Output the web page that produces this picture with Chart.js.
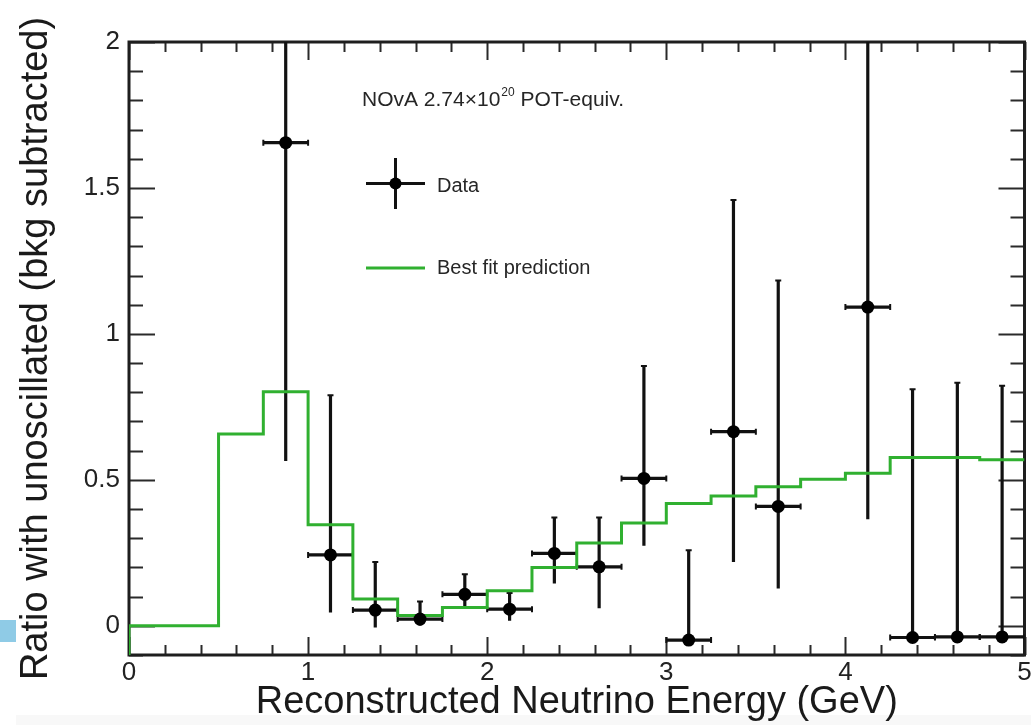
<!DOCTYPE html>
<html>
<head>
<meta charset="utf-8">
<title>NOvA ratio with unoscillated prediction</title>
<script src="https://cdn.jsdelivr.net/npm/chart.js@4/dist/chart.umd.min.js"></script>
<style>
  html, body { margin: 0; padding: 0; background: #ffffff; }
  #wrap { width: 1031px; height: 725px; position: relative; }
</style>
</head>
<body>
<div id="wrap"><canvas id="c" width="1031" height="725"></canvas></div>
<script>
// Histogram bin edges (GeV) and best-fit prediction per bin
const binEdges = [0, 0.25, 0.5, 0.75, 1.0, 1.25, 1.5, 1.75, 2.0, 2.25, 2.5,
                  2.75, 3.0, 3.25, 3.5, 3.75, 4.0, 4.25, 4.5, 4.75, 5.0];
const fitValues = [0, 0, 0.657, 0.802, 0.346, 0.092, 0.035, 0.063, 0.12, 0.2,
                   0.284, 0.352, 0.419, 0.445, 0.476, 0.502, 0.523, 0.577, 0.577, 0.569];

// Data points: bin centre, ratio, asymmetric vertical errors, horizontal half-width
const dataX     = [0.875, 1.125, 1.375, 1.625, 1.875, 2.125, 2.375, 2.625,
                   2.875, 3.125, 3.375, 3.625, 4.125, 4.375, 4.625, 4.875];
const dataY     = [1.655, 0.243, 0.054, 0.023, 0.108, 0.057, 0.248, 0.202,
                   0.505, -0.049, 0.665, 0.409, 1.092, -0.040, -0.038, -0.038];
const dataYHigh = [2.6, 0.79, 0.219, 0.083, 0.177, 0.112, 0.371, 0.371,
                   0.89, 0.259, 1.459, 1.183, 2.3, 0.81, 0.833, 0.822];
const dataYLow  = [0.565, 0.046, -0.006, 0.0, 0.06, 0.017, 0.145, 0.06,
                   0.274, -0.049, 0.219, 0.128, 0.365, -0.040, -0.038, -0.038];
const dataXErr  = [0.125, 0.125, 0.125, 0.125, 0.125, 0.125, 0.125, 0.125,
                   0.125, 0.125, 0.125, 0.125, 0.125, 0.125, 0.125, 0.125];

// Axis ranges and labelled ticks
const xRange = [0, 5];
const yRange = [-0.1, 2];
const xTicks = [0, 1, 2, 3, 4, 5];
const yTicks = [0, 0.5, 1, 1.5, 2];
const xMinorStep = 0.2;
const yMinorStep = 0.1;

const FONT = "'Liberation Sans', Arial, Helvetica, sans-serif";
const GREEN = '#30b030';
const INK = '#1e1e1e';

// Step outline: rises from the axis floor at the first edge, ends at the last edge
const fitPoints = [{ x: binEdges[0], y: yRange[0] }];
fitValues.forEach((v, i) => fitPoints.push({ x: binEdges[i], y: v }));
fitPoints.push({ x: binEdges[binEdges.length - 1], y: fitValues[fitValues.length - 1] });

const dataPoints = dataX.map((x, i) => ({ x: x, y: dataY[i] }));

// Page backdrop, including the small swatch at the left margin
const backdrop = {
  id: 'backdrop',
  beforeDraw(chart) {
    const c = chart.ctx;
    c.save();
    c.fillStyle = '#ffffff';
    c.fillRect(0, 0, chart.width, chart.height);
    c.fillStyle = '#f8f8f8';
    c.fillRect(16, 715, chart.width - 16, chart.height - 715);
    c.fillStyle = '#8fcbe6';
    c.fillRect(0, 620, 16, 22);
    c.restore();
  }
};

// Closed frame with inward major/minor ticks on all four sides
const frame = {
  id: 'frame',
  beforeDatasetsDraw(chart) {
    const c = chart.ctx;
    const a = chart.chartArea;
    const xs = chart.scales.x, ys = chart.scales.y;
    c.save();
    c.strokeStyle = '#2a2a2a';
    c.lineWidth = 2;
    c.beginPath();
    const nx = Math.round((xs.max - xs.min) / xMinorStep);
    for (let i = 0; i <= nx; i++) {
      const v = xs.min + i * xMinorStep;
      const major = Math.abs(v - Math.round(v)) < 1e-6;
      const len = major ? 18 : 10;
      const px = Math.round(xs.getPixelForValue(v)) + 0.5;
      c.moveTo(px, a.bottom); c.lineTo(px, a.bottom - len);
      c.moveTo(px, a.top); c.lineTo(px, a.top + len);
    }
    const ny = Math.round((ys.max - ys.min) / yMinorStep);
    for (let i = 0; i <= ny; i++) {
      const v = ys.min + i * yMinorStep;
      const major = Math.abs(v * 2 - Math.round(v * 2)) < 1e-6;
      const len = major ? 26 : 14;
      const py = Math.round(ys.getPixelForValue(v)) + 0.5;
      c.moveTo(a.left, py); c.lineTo(a.left + len, py);
      c.moveTo(a.right, py); c.lineTo(a.right - len, py);
    }
    c.stroke();
    c.lineWidth = 3;
    c.strokeStyle = INK;
    c.strokeRect(a.left, a.top, a.right - a.left, a.bottom - a.top);
    c.restore();
  }
};

// Error bars with small end caps, clipped to the plotting area
const errorBars = {
  id: 'errorBars',
  beforeDatasetsDraw(chart) {
    const c = chart.ctx;
    const a = chart.chartArea;
    const xs = chart.scales.x, ys = chart.scales.y;
    c.save();
    c.beginPath();
    c.rect(a.left, a.top, a.right - a.left, a.bottom - a.top);
    c.clip();
    c.strokeStyle = '#111';
    const cap = 3;
    dataX.forEach((x, i) => {
      const px = xs.getPixelForValue(x);
      const py = ys.getPixelForValue(dataY[i]);
      const pl = xs.getPixelForValue(x - dataXErr[i]);
      const pr = xs.getPixelForValue(x + dataXErr[i]);
      const pt = ys.getPixelForValue(dataYHigh[i]);
      const pb = ys.getPixelForValue(dataYLow[i]);
      c.lineWidth = 3.2;
      c.beginPath();
      c.moveTo(pl, py); c.lineTo(pr, py);
      c.moveTo(px, pt); c.lineTo(px, pb);
      c.stroke();
      c.lineWidth = 2;
      c.beginPath();
      c.moveTo(pl, py - cap); c.lineTo(pl, py + cap);
      c.moveTo(pr, py - cap); c.lineTo(pr, py + cap);
      if (pt > a.top + 1) { c.moveTo(px - cap, pt); c.lineTo(px + cap, pt); }
      if (pb < py - 1) { c.moveTo(px - cap, pb); c.lineTo(px + cap, pb); }
      c.stroke();
    });
    c.restore();
  }
};

// In-plot legend and exposure label
const legendBox = {
  id: 'legendBox',
  afterDraw(chart) {
    const c = chart.ctx;
    c.save();
    c.fillStyle = '#262626';
    c.textBaseline = 'alphabetic';
    c.textAlign = 'left';
    c.font = '21px ' + FONT;
    let x = 362;
    const main = 'NOvA 2.74\u00d710';
    c.fillText(main, x, 106);
    x += c.measureText(main).width;
    c.font = '12px ' + FONT;
    c.fillText('20', x + 1, 96);
    x += c.measureText('20').width + 1;
    c.font = '21px ' + FONT;
    c.fillText(' POT-equiv.', x, 106);

    // Data entry
    c.strokeStyle = '#111';
    c.lineWidth = 3;
    c.beginPath();
    c.moveTo(366, 183.5); c.lineTo(425, 183.5);
    c.moveTo(395.5, 158); c.lineTo(395.5, 209);
    c.stroke();
    c.fillStyle = '#000';
    c.beginPath();
    c.arc(395.5, 183.5, 6, 0, Math.PI * 2);
    c.fill();
    c.fillStyle = '#262626';
    c.font = '20px ' + FONT;
    c.fillText('Data', 437, 192);

    // Prediction entry
    c.strokeStyle = GREEN;
    c.lineWidth = 3;
    c.beginPath();
    c.moveTo(366, 268); c.lineTo(425, 268);
    c.stroke();
    c.fillText('Best fit prediction', 437, 274);
    c.restore();
  }
};

new Chart(document.getElementById('c').getContext('2d'), {
  type: 'scatter',
  data: {
    datasets: [
      {
        type: 'line',
        label: 'Best fit prediction',
        data: fitPoints,
        stepped: 'before',
        borderColor: GREEN,
        borderWidth: 3,
        pointRadius: 0,
        fill: false,
        order: 2
      },
      {
        label: 'Data',
        data: dataPoints,
        pointRadius: 6.5,
        pointBackgroundColor: '#000',
        pointBorderColor: '#000',
        pointBorderWidth: 0,
        showLine: false,
        order: 1
      }
    ]
  },
  options: {
    responsive: false,
    animation: false,
    devicePixelRatio: 1,
    layout: { padding: { top: 42, right: 4, left: 0, bottom: 0 } },
    plugins: { legend: { display: false }, tooltip: { enabled: false } },
    scales: {
      x: {
        type: 'linear',
        min: xRange[0],
        max: xRange[1],
        afterBuildTicks: s => { s.ticks = xTicks.map(v => ({ value: v })); },
        afterFit: s => { s.height = 70; s.paddingLeft = 0; s.paddingRight = 0; },
        grid: { display: false, drawTicks: false },
        border: { display: false },
        ticks: {
          padding: 2, color: '#222', autoSkip: false, maxRotation: 0,
          font: { size: 26, family: FONT },
          callback: v => String(v)
        },
        title: {
          display: true,
          text: 'Reconstructed Neutrino Energy (GeV)',
          color: '#1a1a1a',
          font: { size: 38, family: FONT },
          padding: { top: 0, bottom: 0 }
        }
      },
      y: {
        type: 'linear',
        min: yRange[0],
        max: yRange[1],
        afterBuildTicks: s => { s.ticks = yTicks.map(v => ({ value: v })); },
        afterFit: s => { s.width = 129; },
        grid: { display: false, drawTicks: false },
        border: { display: false },
        ticks: {
          padding: 9, color: '#222',
          font: { size: 26, family: FONT },
          callback: v => String(v)
        },
        title: {
          display: true,
          text: 'Ratio with unoscillated (bkg subtracted)',
          color: '#1a1a1a',
          font: { size: 38, family: FONT },
          padding: { top: 14, bottom: 0 }
        }
      }
    }
  },
  plugins: [backdrop, frame, errorBars, legendBox]
});
</script>
</body>
</html>
